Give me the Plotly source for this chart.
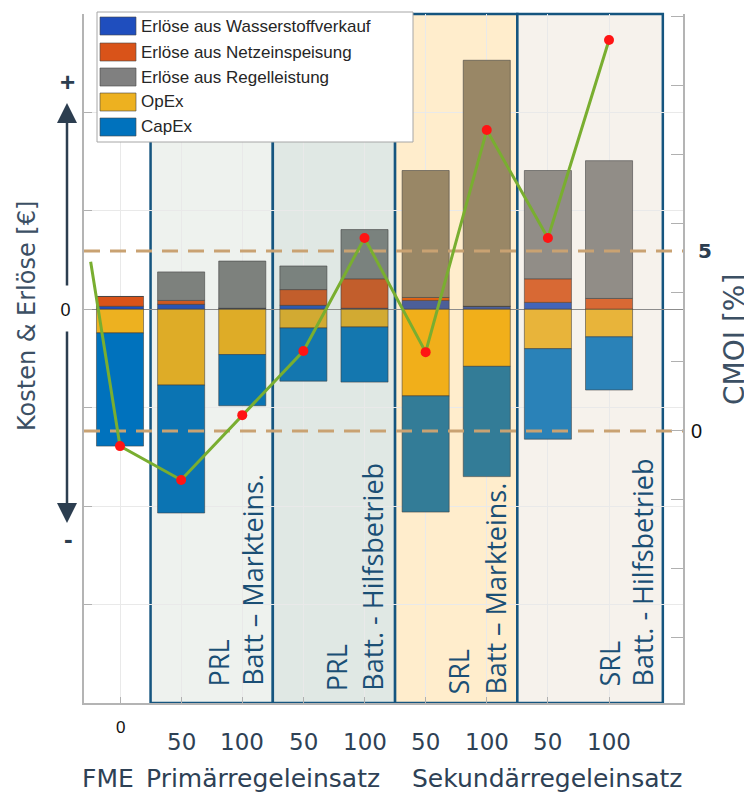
import plotly.graph_objects as go

# ---------------- data ----------------
positions = [1, 2, 3, 4, 5, 6, 7, 8, 9]
tick_labels = ["0", "50", "100", "50", "100", "50", "100", "50", "100"]
group_labels = ["FME", "Primärregeleinsatz", "Sekundärregeleinsatz"]

series_names = ["Erlöse aus Wasserstoffverkauf", "Erlöse aus Netzeinspeisung",
                "Erlöse aus Regelleistung", "OpEx", "CapEx"]
wasserstoff = [0.03, 0.05, 0.01, 0.04, 0.01, 0.09, 0.03, 0.07, 0.00]
netz = [0.10, 0.04, 0.00, 0.16, 0.30, 0.03, 0.00, 0.24, 0.11]
regel = [0.00, 0.29, 0.48, 0.24, 0.50, 1.29, 2.50, 1.10, 1.40]
opex = [-0.24, -0.77, -0.46, -0.19, -0.18, -0.88, -0.58, -0.40, -0.28]
capex = [-1.15, -1.30, -0.52, -0.54, -0.56, -1.18, -1.12, -0.92, -0.54]

cmoi = [-0.42, -1.36, 0.44, 2.22, 5.36, 2.19, 8.36, 5.36, 10.86]
cmoi_start_x = 0.52
cmoi_start = 4.7
cmoi_refs = [5, 0]

region_labels = [("PRL", "Batt – Markteins."), ("PRL", "Batt. - Hilfsbetrieb"),
                 ("SRL", "Batt – Markteins."), ("SRL", "Batt. - Hilfsbetrieb")]

# ---------------- styling / layout helpers ----------------
OFF = 8                      # page body margin of the html page
W, H = 752 - OFF, 794 - OFF
# plot area in page pixels: x 84..683, y 14..703
PL, PR, PT, PB = 84, 683, 14, 703
ML, MR, MT, MB = PL - OFF, W - (PR - OFF), PT - OFF, H - (PB - OFF)
PW, PH = PR - PL, PB - PT
x_range = [0.411, 10.21]
y_range = [-4, 3]
y2_range = [-7.556, 11.583]

def px_x(p):  # page pixel -> paper
    return (p - PL) / PW

def px_y(p):
    return (PB - p) / PH

base_colors = [(31, 78, 190), (217, 83, 25), (128, 128, 128), (237, 177, 32), (0, 114, 189)]
regions = [  # x0, x1, overlay colour, alpha
    (1.5, 3.5, (100, 136, 100), 0.11),
    (3.5, 5.5, (100, 140, 120), 0.20),
    (5.5, 7.5, (255, 165, 0), 0.20),
    (7.5, 9.88, (211, 192, 162), 0.20),
]
label_x = [(2.618, 3.157), (4.546, 5.118), (6.523, 7.128), (9.007, 9.546)]
label_bottom = [688, 693, 697, 688]

def blend(base, over, a):
    return "rgb(%d,%d,%d)" % tuple(round(b * (1 - a) + o * a) for b, o in zip(base, over))

def region_of(p):
    for r in regions:
        if r[0] <= p <= r[1]:
            return r
    return None

def bar_colors(base):
    out = []
    for p in positions:
        r = region_of(p)
        out.append(blend(base, r[2], r[3]) if r else "rgb(%d,%d,%d)" % base)
    return out

TXT = "#2e4155"
FONT = "Open Sans, Noto Sans, sans-serif"
VFONT = "DejaVu Sans, Verdana, sans-serif"
LFONT = "Liberation Sans, Arial, sans-serif"

fig = go.Figure()

for name, vals, col in zip(series_names, [wasserstoff, netz, regel, opex, capex], base_colors):
    fig.add_trace(go.Bar(
        x=positions, y=vals, name=name, width=0.77,
        marker=dict(color=bar_colors(col), line=dict(color="rgba(60,60,60,0.55)", width=1)),
        showlegend=False, hoverinfo="skip"))

# reference dashed lines (CMOI)
for ref in cmoi_refs:
    fig.add_trace(go.Scatter(
        x=x_range, y=[ref, ref], yaxis="y2", mode="lines",
        line=dict(color="#c9a272", width=3, dash="16px,10px"),
        showlegend=False, hoverinfo="skip"))

fig.add_trace(go.Scatter(
    x=[cmoi_start_x] + positions, y=[cmoi_start] + cmoi, yaxis="y2", mode="lines",
    line=dict(color="#79ae30", width=3), showlegend=False, hoverinfo="skip"))
fig.add_trace(go.Scatter(
    x=positions, y=cmoi, yaxis="y2", mode="markers",
    marker=dict(color="#ff1414", size=10), showlegend=False, hoverinfo="skip"))

shapes = []
for (x0, x1, col, a) in regions:
    shapes.append(dict(type="rect", xref="x", yref="paper", x0=x0, x1=x1, y0=0, y1=1,
                       fillcolor=blend((255, 255, 255), col, a),
                       line=dict(color="#15557f", width=2.5), layer="below"))

# manual legend
shapes.append(dict(type="rect", xref="paper", yref="paper", x0=px_x(97), x1=px_x(413),
                   y0=px_y(142), y1=px_y(12), fillcolor="white",
                   line=dict(color="#a6a6a6", width=1), layer="above"))
annotations = []
row_centers = [26, 52, 77, 102, 127]
for name, col, yc in zip(series_names, base_colors, row_centers):
    shapes.append(dict(type="rect", xref="paper", yref="paper", x0=px_x(100), x1=px_x(136),
                       y0=px_y(yc + 9), y1=px_y(yc - 9), fillcolor="rgb(%d,%d,%d)" % col,
                       line=dict(color="rgba(70,70,70,0.6)", width=1), layer="above"))
    annotations.append(dict(xref="paper", yref="paper", x=px_x(139), y=px_y(yc), text=name,
                            showarrow=False, xanchor="left", yanchor="middle",
                            font=dict(family=LFONT, size=17, color="#262626")))

# region labels
for (l1, l2), (xa, xb), yb in zip(region_labels, label_x, label_bottom):
    for t, xx in ((l1, xa), (l2, xb)):
        annotations.append(dict(xref="x", yref="paper", x=xx, y=px_y(yb), text=t,
                                textangle=-90, showarrow=False, xanchor="center",
                                yanchor="bottom",
                                font=dict(family=FONT, size=27, color="#1a4f75")))

# x tick labels
for p, t in zip(positions, tick_labels):
    if t == "0":
        annotations.append(dict(xref="x", yref="paper", x=p, y=px_y(727), text=t,
                                showarrow=False, xanchor="center", yanchor="middle",
                                font=dict(family=LFONT, size=17, color="#111111")))
    else:
        annotations.append(dict(xref="x", yref="paper", x=p, y=px_y(742), text=t,
                                showarrow=False, xanchor="center", yanchor="middle",
                                font=dict(family=VFONT, size=23, color=TXT)))

for t, xc in zip(group_labels, [108, 263, 547]):
    annotations.append(dict(xref="paper", yref="paper", x=px_x(xc), y=px_y(778), text=t,
                            showarrow=False, xanchor="center", yanchor="middle",
                            font=dict(family=VFONT, size=25, color=TXT)))

# axis titles
annotations.append(dict(xref="paper", yref="paper", x=px_x(27), y=px_y(316),
                        text="Kosten & Erlöse [€]", textangle=-90, showarrow=False,
                        xanchor="center", yanchor="middle",
                        font=dict(family=VFONT, size=24, color="#3c5064")))
annotations.append(dict(xref="paper", yref="paper", x=px_x(734), y=px_y(340),
                        text="CMOI [%]", textangle=-90, showarrow=False,
                        xanchor="center", yanchor="middle",
                        font=dict(family=VFONT, size=28, color="#3c5064")))

# right labels for reference lines
annotations.append(dict(xref="paper", yref="y2", x=px_x(705), y=cmoi_refs[0], text="<b>5</b>",
                        showarrow=False, xanchor="center", yanchor="middle",
                        font=dict(family=VFONT, size=20, color="#2c3e50")))
annotations.append(dict(xref="paper", yref="y2", x=px_x(696), y=cmoi_refs[1], text="0",
                        showarrow=False, xanchor="center", yanchor="middle",
                        font=dict(family=LFONT, size=20, color="#111111")))

# +/- arrows
annotations.append(dict(xref="paper", yref="paper", x=px_x(67), y=px_y(103), text="",
                        showarrow=True, ax=0, ay=184, arrowhead=2, arrowsize=1.6,
                        arrowwidth=2.5, arrowcolor="#2c3e50"))
annotations.append(dict(xref="paper", yref="paper", x=px_x(67), y=px_y(523), text="",
                        showarrow=True, ax=0, ay=-193, arrowhead=2, arrowsize=1.6,
                        arrowwidth=2.5, arrowcolor="#2c3e50"))
annotations.append(dict(xref="paper", yref="paper", x=px_x(67), y=px_y(82), text="<b>+</b>",
                        showarrow=False, xanchor="center", yanchor="middle",
                        font=dict(family=LFONT, size=26, color="#2c3e50")))
annotations.append(dict(xref="paper", yref="paper", x=px_x(68), y=px_y(539), text="<b>-</b>",
                        showarrow=False, xanchor="center", yanchor="middle",
                        font=dict(family=LFONT, size=26, color="#2c3e50")))

y_ticks = list(range(-4, 4))
fig.update_layout(
    width=W, height=H, autosize=False,
    margin=dict(l=ML, r=MR, t=MT, b=MB),
    plot_bgcolor="white", paper_bgcolor="white",
    barmode="relative", showlegend=False,
    xaxis=dict(range=x_range, tickvals=positions, showticklabels=False, ticks="inside",
               ticklen=6, tickcolor="#b0b0b0", showgrid=True, gridcolor="#e9e9e9",
               zeroline=False, showline=True, linecolor="#b4b4b4", linewidth=1.5),
    yaxis=dict(range=y_range, tickvals=y_ticks, ticktext=["0" if v == 0 else "" for v in y_ticks],
               tickfont=dict(family=LFONT, size=18, color="#111111"), ticks="inside",
               ticklen=8, tickcolor="#b0b0b0", ticklabelstandoff=8,
               showgrid=True, gridcolor="#e9e9e9", zeroline=True, zerolinecolor="#8c8c8c",
               zerolinewidth=1, showline=True, linecolor="#b4b4b4", linewidth=2),
    yaxis2=dict(range=y2_range, overlaying="y", side="right", tick0=0, dtick=1.9167,
                showticklabels=False, ticks="inside", ticklen=12, tickcolor="#b0b0b0",
                showgrid=False, zeroline=False, showline=True, linecolor="#b4b4b4",
                linewidth=2),
    shapes=shapes, annotations=annotations,
)

fig.write_html("out.html")
